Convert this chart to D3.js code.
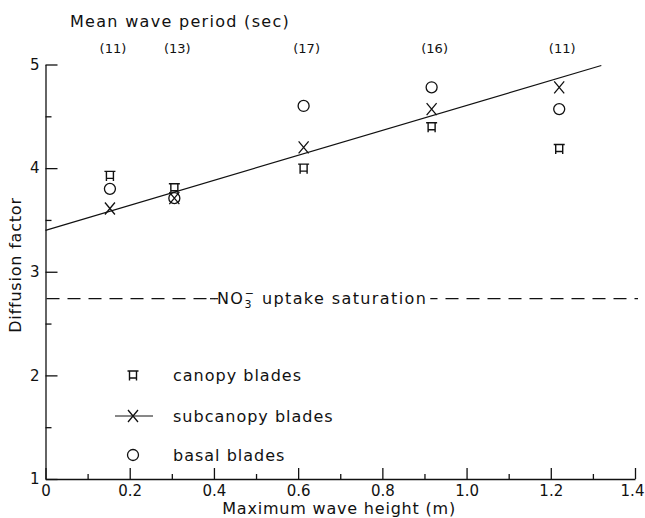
<!DOCTYPE html>
<html>
<head>
<meta charset="utf-8">
<script src="https://d3js.org/d3.v7.min.js"></script>
<style>
  body { margin: 0; background: #fff; }
  svg text { font-family: "DejaVu Sans", sans-serif; fill: #111; }
  .axis path, .axis line { stroke: #111; stroke-width: 1.3; }
</style>
</head>
<body>
<svg id="graph" width="645" height="518"></svg>
<script>
// values
const waveHeight = [0.153, 0.306, 0.613, 0.917, 1.22];
const wavePeriod = ['(11)', '(13)', '(17)', '(16)', '(11)'];
const canopy = [3.93, 3.81, 4.00, 4.40, 4.19];
const subcanopy = [3.61, 3.71, 4.20, 4.57, 4.78];
const basal = [3.80, 3.71, 4.60, 4.78, 4.57];
const fitLine = [[0, 3.40], [1.32, 4.99]];
const saturation = 2.74;

const xTicks = [0, 0.2, 0.4, 0.6, 0.8, 1.0, 1.2, 1.4];
const xTickLabels = ['0', '0.2', '0.4', '0.6', '0.8', '1.0', '1.2', '1.4'];
const xMinor = [0.1, 0.3, 0.5, 0.7, 0.9, 1.1, 1.3];
const yTicks = [1, 2, 3, 4, 5];
const yMinor = [1.5, 2.5, 3.5, 4.5];

const svg = d3.select('#graph');

const xScale = d3.scaleLinear().domain([0, 1.4]).range([45.5, 635]);
const yScale = d3.scaleLinear().domain([1, 5]).range([479, 64.5]);
const x0 = xScale(0), yBase = yScale(1);

// axes, ticks pointing inward
const xAxis = d3.axisBottom(xScale)
    .tickValues(xTicks)
    .tickFormat((d, i) => xTickLabels[i])
    .tickSizeInner(-11).tickSizeOuter(0).tickPadding(6);
svg.append('g').attr('class', 'axis')
   .attr('transform', `translate(0,${yBase})`)
   .call(xAxis)
   .call(g => g.selectAll('text').style('font-size', '15px'))
   .call(g => g.selectAll('.tick:last-of-type text').attr('dx', -3));
svg.append('g').attr('class', 'axis')
   .attr('transform', `translate(0,${yBase})`)
   .call(d3.axisBottom(xScale).tickValues(xMinor).tickFormat('').tickSizeInner(-5).tickSizeOuter(0))
   .call(g => g.select('.domain').remove());

const yAxis = d3.axisLeft(yScale)
    .tickValues(yTicks)
    .tickFormat(d3.format('d'))
    .tickSizeInner(-12).tickSizeOuter(0).tickPadding(6);
svg.append('g').attr('class', 'axis')
   .attr('transform', `translate(${x0},0)`)
   .call(yAxis)
   .call(g => g.selectAll('text').style('font-size', '15px'));
svg.append('g').attr('class', 'axis')
   .attr('transform', `translate(${x0},0)`)
   .call(d3.axisLeft(yScale).tickValues(yMinor).tickFormat('').tickSizeInner(-6).tickSizeOuter(0))
   .call(g => g.select('.domain').remove());

// axis titles
svg.append('text')
   .attr('x', 456).attr('y', 514)
   .attr('text-anchor', 'end')
   .style('font-size', '16px').style('letter-spacing', '0.8px')
   .text('Maximum wave height (m)');

svg.append('text')
   .attr('transform', 'translate(21,265) rotate(-90)')
   .attr('text-anchor', 'middle')
   .style('font-size', '16px').style('letter-spacing', '0.8px')
   .text('Diffusion factor');

svg.append('text')
   .attr('x', 70).attr('y', 27)
   .style('font-size', '16px').style('letter-spacing', '1.3px')
   .text('Mean wave period (sec)');

svg.selectAll('.period').data(wavePeriod).enter().append('text')
   .attr('class', 'period')
   .attr('x', (d, i) => xScale(waveHeight[i]) + 3)
   .attr('y', 53)
   .attr('text-anchor', 'middle')
   .style('font-size', '13px')
   .text(d => d);

// saturation line with label
svg.append('line')
   .attr('x1', x0 + 1).attr('x2', 638)
   .attr('y1', yScale(saturation)).attr('y2', yScale(saturation))
   .attr('stroke', '#111').attr('stroke-width', 1.2)
   .attr('stroke-dasharray', '13,8');

const satLabel = svg.append('text')
   .attr('x', 217).attr('y', yScale(saturation) + 5)
   .style('font-size', '16px').style('letter-spacing', '1.4px');
satLabel.append('tspan').text('NO');
satLabel.append('tspan').attr('dy', 4).style('font-size', '11px').text('3');
satLabel.append('tspan').attr('dx', -8).attr('dy', -11).style('font-size', '11px').text('−');
satLabel.append('tspan').attr('dy', 7).text(' uptake saturation');
const bb = satLabel.node().getBBox();
svg.insert('rect', () => satLabel.node())
   .attr('x', bb.x - 2).attr('y', bb.y).attr('width', bb.width + 5).attr('height', bb.height)
   .attr('fill', '#fff');
svg.append('line')
   .attr('x1', bb.x - 7).attr('x2', bb.x + 1)
   .attr('y1', yScale(saturation)).attr('y2', yScale(saturation))
   .attr('stroke', '#111').attr('stroke-width', 1.2);

// regression line
svg.append('path')
   .datum(fitLine)
   .attr('d', d3.line().x(d => xScale(d[0])).y(d => yScale(d[1])))
   .attr('fill', 'none').attr('stroke', '#111').attr('stroke-width', 1.2);

// markers
const canopyPath = 'M-5.5,-4H5.5M-3.5,-4V5.5M3.5,-4V5.5M-3.5,3H3.5';
const crossPath = 'M-5,-6L5,6M5,-6L-5,6';

const drawCanopy = (g, cx, cy) => g.append('path')
   .attr('transform', `translate(${cx},${cy})`)
   .attr('d', canopyPath).attr('fill', 'none').attr('stroke', '#111').attr('stroke-width', 1.4);
const drawCross = (g, cx, cy) => g.append('path')
   .attr('transform', `translate(${cx},${cy})`)
   .attr('d', crossPath).attr('fill', 'none').attr('stroke', '#111').attr('stroke-width', 1.3);
const drawCircle = (g, cx, cy) => g.append('circle')
   .attr('cx', cx).attr('cy', cy).attr('r', 5.5)
   .attr('fill', 'none').attr('stroke', '#111').attr('stroke-width', 1.3);

const marks = svg.append('g');
waveHeight.forEach((h, i) => {
    drawCanopy(marks, xScale(h), yScale(canopy[i]));
    drawCross(marks, xScale(h), yScale(subcanopy[i]));
    drawCircle(marks, xScale(h), yScale(basal[i]));
});

// legend
const legend = svg.append('g');
const legendItems = ['canopy blades', 'subcanopy blades', 'basal blades'];
const legendY = [375, 416, 455];
drawCanopy(legend, 133, legendY[0]);
legend.append('line').attr('x1', 115).attr('x2', 153)
   .attr('y1', legendY[1]).attr('y2', legendY[1])
   .attr('stroke', '#111').attr('stroke-width', 1);
drawCross(legend, 133, legendY[1]);
drawCircle(legend, 133, legendY[2]);
legend.selectAll('text').data(legendItems).enter().append('text')
   .attr('x', 173).attr('y', (d, i) => legendY[i] + 6)
   .style('font-size', '16px').style('letter-spacing', '1px')
   .text(d => d);
</script>
</body>
</html>
